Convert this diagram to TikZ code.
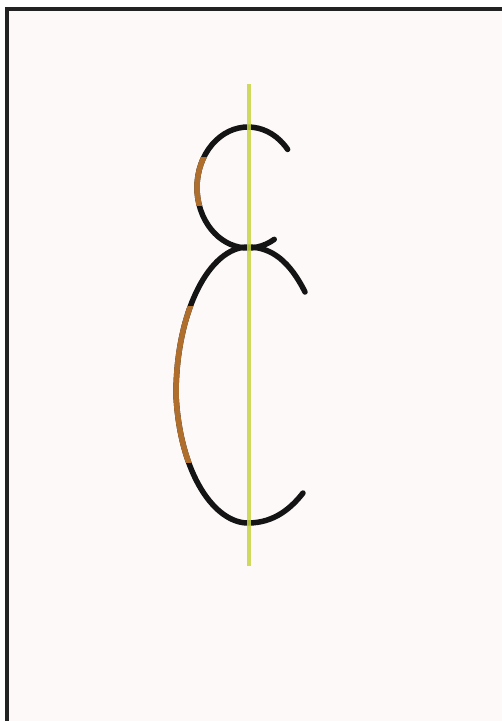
\documentclass[tikz,border=0pt]{standalone}
\definecolor{bgpink}{HTML}{FDF9F8}
\definecolor{frameink}{HTML}{222222}
\definecolor{curveink}{HTML}{141414}
\definecolor{brownink}{HTML}{B06E2C}
\definecolor{axisyellow}{HTML}{C8D444}
\newcommand\UpperCurve[1]{\draw[#1] (248,187.5) ++(-39:51 and 60.5) arc[start angle=-39, end angle=-301, x radius=51, y radius=60.5];}
\newcommand\LowerCurve[1]{\draw[#1] (305,292) .. controls (290,262) and (272,247) .. (248,247)
  .. controls (210,247) and (176,310) .. (176,395)
  .. controls (180,475) and (215,523) .. (248,523)
  .. controls (275,523) and (292,507) .. (303,493);}
\begin{document}
\begin{tikzpicture}[x=1pt,y=-1pt,
  curve/.style={draw=curveink,line width=5.5pt,line cap=round},
  browncurve/.style={draw=brownink,line width=5.5pt},
  axis/.style={draw=axisyellow,line width=4.5pt,opacity=0.85},
  frame/.style={draw=frameink,line width=4pt}]
\useasboundingbox (0,0) rectangle (502,721);
\fill[white] (0,0) rectangle (502,721);
\fill[bgpink] (7,8.5) rectangle (502,721);
\draw[frame] (7,721) -- (7,8.5) -- (502,8.5);
% upper arc
\UpperCurve{curve}
\begin{scope}
  \clip (180,157) rectangle (226,205);
  \UpperCurve{browncurve}
\end{scope}
% lower arc
\LowerCurve{curve}
\begin{scope}
  \clip (150,306) rectangle (226,462);
  \LowerCurve{browncurve}
\end{scope}
% axis
\draw[axis] (249,84) -- (249,566);
\end{tikzpicture}
\end{document}
